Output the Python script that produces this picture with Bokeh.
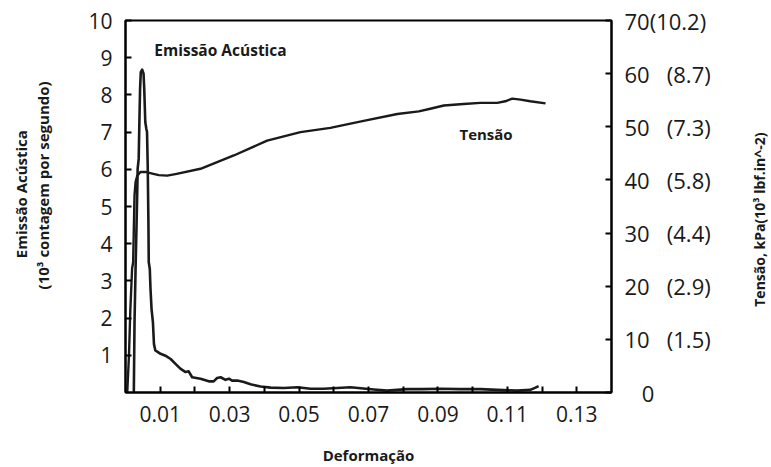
import math
from bokeh.plotting import figure
from bokeh.layouts import row
from bokeh.models import Range1d, LinearAxis, FixedTicker, Label
from bokeh.embed import file_html
from bokeh.resources import INLINE

# ---------------- data ----------------
ae_strain = [0.0024, 0.0026, 0.0029, 0.0032, 0.0034, 0.0035, 0.0038, 0.0040, 0.0042,
             0.0044, 0.0048, 0.0052, 0.0054, 0.0057, 0.0060, 0.0062, 0.0064, 0.0066,
             0.0067, 0.0070, 0.0072, 0.0075, 0.0079, 0.0082, 0.0086, 0.0101, 0.0115,
             0.0130, 0.0144, 0.0158, 0.0173, 0.0182, 0.0192, 0.0216, 0.0240, 0.0254,
             0.0264, 0.0274, 0.0288, 0.0298, 0.0307, 0.0322, 0.0341, 0.0360, 0.0389,
             0.0418, 0.0456, 0.0495, 0.0533, 0.0571, 0.0610, 0.0648, 0.0715, 0.0754,
             0.0811, 0.0854, 0.0907, 0.0963, 0.1022, 0.1071, 0.1128, 0.1166, 0.1181,
             0.1190]
ae_counts = [0.00, 1.89, 3.32, 4.58, 5.47, 6.01, 6.28, 7.27, 8.16,
             8.61, 8.68, 8.57, 8.16, 7.27, 7.09, 7.00, 6.10, 4.58,
             3.50, 3.32, 2.79, 2.25, 1.89, 1.30, 1.13, 1.04, 0.99,
             0.90, 0.77, 0.64, 0.55, 0.57, 0.41, 0.37, 0.30, 0.30,
             0.39, 0.41, 0.34, 0.37, 0.32, 0.32, 0.28, 0.22, 0.16,
             0.13, 0.12, 0.14, 0.10, 0.10, 0.12, 0.14, 0.08, 0.05,
             0.09, 0.09, 0.10, 0.09, 0.09, 0.07, 0.05, 0.07, 0.13,
             0.17]

stress_strain = [0.0005, 0.0010, 0.0014, 0.0019, 0.0022, 0.0024, 0.0026, 0.0029, 0.0034,
                 0.0043, 0.0058, 0.0077, 0.0096, 0.0120, 0.0144, 0.0216, 0.0312, 0.0408,
                 0.0504, 0.0590, 0.0648, 0.0686, 0.0783, 0.0845, 0.0878, 0.0917, 0.0974,
                 0.1022, 0.1071, 0.1094, 0.1114, 0.1138, 0.1166, 0.1210]
stress_kpa = [0.0, 7.0, 15.7, 23.3, 24.5, 30.8, 37.1, 39.6, 40.8,
              41.5, 41.5, 41.2, 40.9, 40.8, 41.1, 42.1, 44.6, 47.4,
              49.0, 49.8, 50.6, 51.1, 52.4, 52.9, 53.4, 54.0, 54.3,
              54.5, 54.5, 54.8, 55.3, 55.1, 54.8, 54.4]

x_major_ticks = [0.01, 0.03, 0.05, 0.07, 0.09, 0.11, 0.13]
x_minor_ticks = [0.02, 0.04, 0.06, 0.08, 0.10, 0.12]
left_ticks = [1, 2, 3, 4, 5, 6, 7, 8, 9, 10]
right_ticks = [0, 10, 20, 30, 40, 50, 60, 70]
right_tick_labels = ["\u00a0\u00a0\u00a00", "10\u00a0\u00a0\u00a0(1.5)", "20\u00a0\u00a0\u00a0(2.9)",
                     "30\u00a0\u00a0\u00a0(4.4)", "40\u00a0\u00a0\u00a0(5.8)", "50\u00a0\u00a0\u00a0(7.3)",
                     "60\u00a0\u00a0\u00a0(8.7)", "70(10.2)"]

x_label = "Deformação"
left_label_1 = "Emissão Acústica"
left_label_2 = "(10³ contagem por segundo)"
right_label = "Tensão, kPa(10³ lbf.in^-2)"
ae_name = "Emissão Acústica"
stress_name = "Tensão"

FONT = "Open Sans"
TICK_SIZE = "21px"
INK = "#1a1a1a"
H = 467


def side_fig(w):
    f = figure(width=w, height=H, output_backend="svg", toolbar_location=None,
               x_range=Range1d(0, w), y_range=Range1d(0, H),
               x_axis_location=None, y_axis_location=None,
               min_border=0, min_border_left=0, min_border_right=0,
               min_border_top=0, min_border_bottom=0,
               background_fill_color="white", border_fill_color="white")
    f.outline_line_color = None
    f.xgrid.visible = False
    f.ygrid.visible = False
    return f


def lbl(fig, text, x, y, angle=0.0, align="left", size="15px", **kw):
    fig.add_layout(Label(text=text, x=x, y=y, angle=angle,
                         text_font=FONT, text_font_size=size, text_font_style="bold",
                         text_color=INK, text_align=align, text_baseline="middle", **kw))


# ---------------- main plot ----------------
p = figure(width=686, height=H, output_backend="svg", toolbar_location=None,
           x_range=Range1d(0, 0.14), y_range=Range1d(0, 10),
           min_border_left=70, min_border_right=130, min_border_top=20, min_border_bottom=75,
           background_fill_color="white", border_fill_color="white")
p.extra_y_ranges = {"stress": Range1d(0, 70)}
p.xgrid.visible = False
p.ygrid.visible = False
p.outline_line_color = "black"
p.outline_line_width = 2
p.outline_line_alpha = 1

xa = p.xaxis[0]
xa.ticker = FixedTicker(ticks=x_major_ticks, minor_ticks=x_minor_ticks)
xa.major_label_overrides = {t: f"{t:.2f}" for t in x_major_ticks}
xa.axis_label = x_label
xa.axis_label_text_font = FONT
xa.axis_label_text_font_style = "bold"
xa.axis_label_text_font_size = "15px"
xa.axis_label_text_color = INK
xa.axis_label_standoff = 20

ya = p.yaxis[0]
ya.ticker = FixedTicker(ticks=left_ticks)
ya.major_label_overrides = {t: str(t) for t in left_ticks}

ra = LinearAxis(y_range_name="stress", ticker=FixedTicker(ticks=right_ticks))
ra.major_label_overrides = dict(zip(right_ticks, right_tick_labels))
p.add_layout(ra, "right")

for ax in (xa, ya, ra):
    ax.axis_line_color = "black"
    ax.axis_line_width = 2
    ax.major_tick_line_color = "black"
    ax.major_tick_line_width = 2
    ax.major_tick_in = 6
    ax.major_tick_out = 0
    ax.minor_tick_line_color = "black"
    ax.minor_tick_line_width = 2
    ax.minor_tick_in = 6
    ax.minor_tick_out = 0
    ax.major_label_text_font = FONT
    ax.major_label_text_font_size = TICK_SIZE
    ax.major_label_text_color = INK
ya.minor_tick_line_color = None
ra.minor_tick_line_color = None
xa.major_label_standoff = 13
ya.major_label_standoff = 13
ra.major_label_standoff = 13
ra.major_label_text_font_size = "22px"

p.line(ae_strain, ae_counts, line_color=INK, line_width=2.6, line_join="round")
p.line(stress_strain, stress_kpa, y_range_name="stress", line_color=INK,
       line_width=2.4, line_join="round")

lbl(p, ae_name, 0.0083, 9.22, size="15.5px")
lbl(p, stress_name, 0.0962, 6.96, size="15px")

# ---------------- side panels with rotated axis titles ----------------
pl = side_fig(55)
lbl(pl, left_label_1, 20, H - 218, angle=math.pi / 2, align="center", size="15px")
lbl(pl, left_label_2, 42, H - 207, angle=math.pi / 2, align="center", size="15px")

pr = side_fig(30)
lbl(pr, right_label, 18, H - 250, angle=math.pi / 2, align="center", size="14px")

layout = row(pl, p, pr, spacing=0)
open("out.html", "w").write(file_html(layout, INLINE))
